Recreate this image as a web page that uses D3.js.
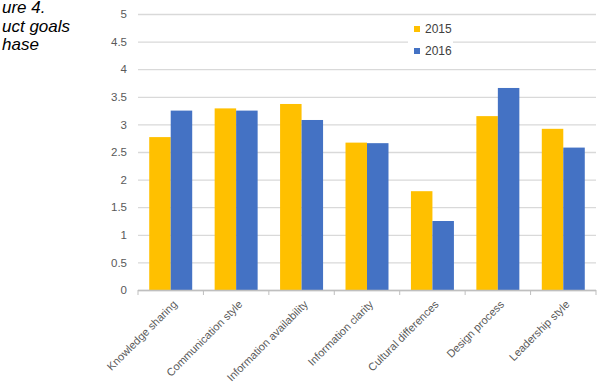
<!DOCTYPE html>
<html>
<head>
<meta charset="utf-8">
<script src="https://cdn.jsdelivr.net/npm/d3@7"></script>
<style>
  body { margin: 0; background: #fff; }
  svg { display: block; }
  .caption { font-family: "Liberation Sans", Arial, sans-serif; font-style: italic; font-size: 17px; fill: #000; }
  .tick text { font-family: "Liberation Sans", Arial, sans-serif; fill: #595959; }
</style>
</head>
<body>
<div id="chart"></div>
<script>
const categories = ["Knowledge sharing", "Communication style", "Information availability",
  "Information clarity", "Cultural differences", "Design process", "Leadership style"]
const seriesNames = ["2015", "2016"]
const values2015 = [2.77, 3.29, 3.37, 2.67, 1.79, 3.15, 2.92]
const values2016 = [3.25, 3.25, 3.08, 2.66, 1.25, 3.66, 2.58]
const yTicks = [0, 0.5, 1, 1.5, 2, 2.5, 3, 3.5, 4, 4.5, 5]
const captionLines = ["ure 4.", "uct goals", "hase"]
const colors = ["#ffc000", "#4472c4"]

const dims = {
  width: 605,
  height: 386,
  plot: { left: 138, right: 596, top: 14, bottom: 290 },
}

const rows = categories.map((c, i) => ({ category: c, values: [values2015[i], values2016[i]] }))

const svg = d3.select("#chart").append("svg")
  .attr("width", dims.width)
  .attr("height", dims.height)

// caption, cut off at the left edge as in the source
svg.append("g")
  .selectAll("text")
  .data(captionLines)
  .join("text")
  .attr("class", "caption")
  .attr("x", 2)
  .attr("y", (d, i) => 13 + i * 18.5)
  .text(d => d)

const x0 = d3.scaleBand()
  .domain(categories)
  .range([dims.plot.left, dims.plot.right])
  .paddingInner(0.343)
  .paddingOuter(0.1715)

const x1 = d3.scaleBand()
  .domain(seriesNames)
  .range([0, x0.bandwidth()])

const y = d3.scaleLinear()
  .domain([0, 5])
  .range([dims.plot.bottom, dims.plot.top])

// gridlines + y labels
const yAxis = svg.append("g")
  .attr("transform", `translate(${dims.plot.left},0)`)
  .call(d3.axisLeft(y)
    .tickValues(yTicks)
    .tickFormat(d => String(d))
    .tickSize(-(dims.plot.right - dims.plot.left))
    .tickPadding(11))
yAxis.select(".domain").remove()
yAxis.selectAll(".tick line").attr("stroke", "#d9d9d9").attr("stroke-width", 1.3)
yAxis.selectAll(".tick text").attr("font-size", "11.5px")

// legend backdrop hides the gridline under it
const legend = svg.append("g").attr("transform", "translate(408,20)")
legend.append("rect")
  .attr("width", 45).attr("height", 40)
  .attr("fill", "#fff")

// bars
svg.append("g")
  .selectAll("g")
  .data(rows)
  .join("g")
  .attr("transform", d => `translate(${x0(d.category)},0)`)
  .selectAll("rect")
  .data(d => d.values.map((v, i) => ({ key: seriesNames[i], value: v })))
  .join("rect")
  .attr("x", d => x1(d.key))
  .attr("y", d => y(d.value))
  .attr("width", x1.bandwidth())
  .attr("height", d => y(0) - y(d.value))
  .attr("fill", (d, i) => colors[i])

// x axis with ticks between categories
const step = x0.step()
const boundaries = d3.range(categories.length + 1).map(i => dims.plot.left + i * step)
const xg = svg.append("g")
xg.append("line")
  .attr("x1", dims.plot.left).attr("x2", dims.plot.right)
  .attr("y1", y(0) + 0.5).attr("y2", y(0) + 0.5)
  .attr("stroke", "#bfbfbf").attr("stroke-width", 1.3)
xg.selectAll(".btick")
  .data(boundaries)
  .join("line")
  .attr("class", "btick")
  .attr("x1", d => d).attr("x2", d => d)
  .attr("y1", y(0)).attr("y2", y(0) + 5)
  .attr("stroke", "#bfbfbf")

const xAxis = svg.append("g")
  .attr("transform", `translate(0,${y(0)})`)
  .call(d3.axisBottom(x0).tickSize(0).tickPadding(0))
xAxis.select(".domain").remove()
xAxis.selectAll(".tick text")
  .attr("font-size", "11px")
  .attr("text-anchor", "end")
  .attr("dy", null)
  .attr("transform", "translate(7,15) rotate(-45)")

// legend entries
const items = legend.selectAll(".item")
  .data(seriesNames)
  .join("g")
  .attr("class", "item")
  .attr("transform", (d, i) => `translate(6,${6 + i * 22})`)
items.append("rect")
  .attr("width", 6).attr("height", 6)
  .attr("fill", (d, i) => colors[i])
items.append("text")
  .attr("x", 11).attr("y", 7)
  .attr("font-family", "Liberation Sans, Arial, sans-serif")
  .attr("font-size", "12px")
  .attr("fill", "#404040")
  .text(d => d)
</script>
</body>
</html>
